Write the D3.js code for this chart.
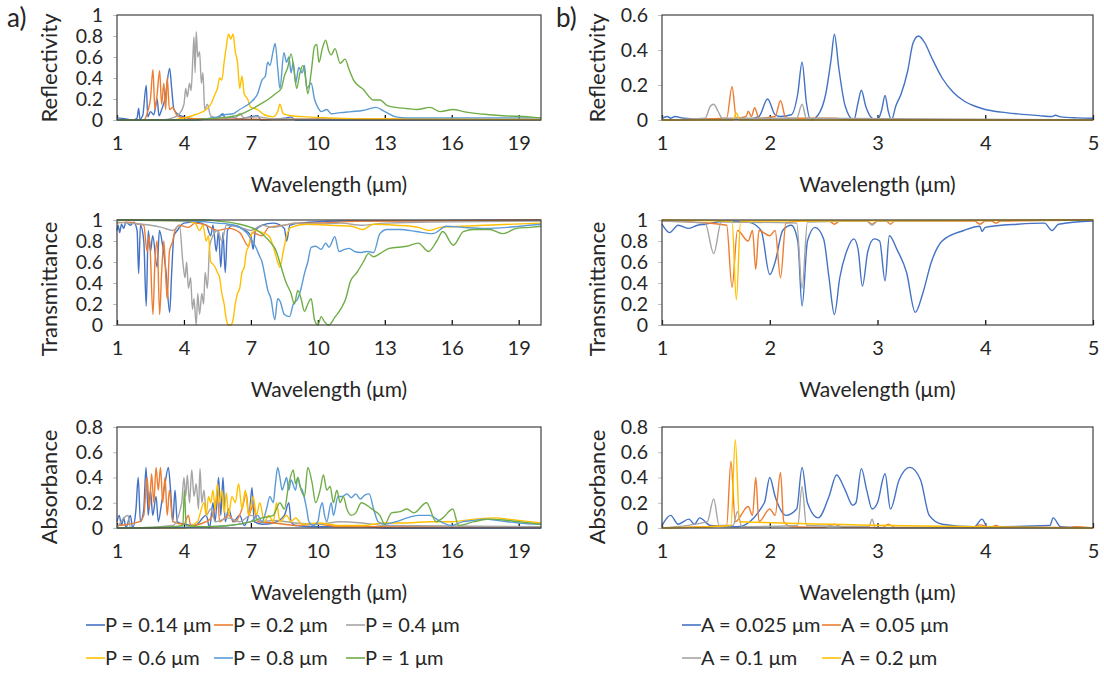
<!DOCTYPE html>
<html>
<head>
<meta charset="utf-8">
<script src="https://cdn.jsdelivr.net/npm/d3@7"></script>
<style>
  body { margin: 0; background: #fff; }
  svg { display: block; }
  text { font-family: Lato, "Open Sans", sans-serif; fill: #262626; }
</style>
</head>
<body>
<svg id="chart" width="1104" height="673"></svg>
<script>
// ---- panel a: period sweep (x in µm, 1..20) ----
const labelsA = ["P = 0.14 μm", "P = 0.2 μm", "P = 0.4 μm", "P = 0.6 μm", "P = 0.8 μm", "P = 1 μm"];
const colorsA = ["#4472C4", "#ED7D31", "#A5A5A5", "#FFC000", "#5B9BD5", "#70AD47"];

const reflA_p014 = [[1,0.02],[1.4,0.01],[1.7,0],[1.9,0.02],[1.97,0.11],[2.03,0.01],[2.15,0.04],[2.31,0.33],[2.38,0.03],[2.5,0.08],[2.65,0.05],[2.8,0.2],[2.88,0.04],[3,0.1],[3.15,0.2],[3.36,0.49],[3.45,0.3],[3.55,0.1],[3.7,0.06],[4,0.03],[4.5,0.01],[5.5,0.02],[5.75,0.06],[5.85,0.01],[6.1,0.03],[6.4,0.01],[7.3,0.04],[7.45,0],[8.6,0.02],[8.8,0.03],[9,0],[20,0]];
const reflA_p02 = [[1,0],[2.2,0],[2.4,0.1],[2.5,0.2],[2.61,0.48],[2.7,0.1],[2.8,0.25],[2.91,0.47],[3,0.15],[3.1,0.35],[3.18,0.1],[3.25,0.4],[3.35,0.1],[3.5,0.12],[3.7,0.04],[4,0.02],[5,0.01],[6,0.01],[8,0.005],[10,0.01],[12,0.01],[20,0.005]];
const reflA_p04 = [[1,0],[3,0],[3.5,0.02],[3.8,0.06],[4,0.15],[4.08,0.3],[4.15,0.22],[4.25,0.35],[4.32,0.28],[4.4,0.6],[4.45,0.79],[4.5,0.45],[4.55,0.84],[4.62,0.6],[4.7,0.65],[4.78,0.35],[4.85,0.45],[4.93,0.1],[5.05,0.15],[5.2,0.04],[5.5,0.02],[6.3,0.02],[6.5,0.06],[6.7,0.02],[7.3,0.03],[8,0.01],[20,0]];
const reflA_p06 = [[1,0],[3.5,0],[4,0.02],[4.5,0.05],[5,0.1],[5.2,0.15],[5.4,0.25],[5.5,0.3],[5.6,0.4],[5.7,0.38],[5.8,0.55],[5.9,0.7],[6,0.82],[6.1,0.77],[6.2,0.82],[6.3,0.65],[6.4,0.55],[6.5,0.3],[6.6,0.42],[6.7,0.25],[6.85,0.2],[7,0.12],[7.3,0.1],[7.6,0.05],[8,0.03],[8.2,0.08],[8.3,0.15],[8.45,0.06],[8.8,0.04],[9.5,0.03],[10.5,0.02],[12,0.01],[14,0.01],[20,0.005]];
const reflA_p08 = [[1,0],[4.5,0],[5,0.01],[5.5,0.03],[5.8,0.05],[6.2,0.06],[6.5,0.1],[7,0.17],[7.3,0.25],[7.5,0.38],[7.65,0.42],[7.75,0.55],[7.85,0.52],[8,0.66],[8.09,0.73],[8.2,0.5],[8.3,0.3],[8.48,0.64],[8.6,0.55],[8.7,0.6],[8.8,0.45],[8.9,0.55],[9,0.35],[9.15,0.5],[9.3,0.45],[9.4,0.52],[9.5,0.3],[9.7,0.35],[9.85,0.2],[10,0.12],[10.15,0.08],[10.4,0.1],[10.6,0.06],[11,0.07],[11.5,0.08],[12,0.09],[12.6,0.12],[13,0.08],[13.5,0.03],[14,0.02],[20,0.02]];
const reflA_p1 = [[1,0],[4,0],[5,0.01],[6,0.03],[6.5,0.05],[7,0.1],[7.5,0.16],[7.8,0.2],[8.1,0.25],[8.36,0.3],[8.5,0.42],[8.65,0.5],[8.8,0.63],[8.95,0.45],[9.05,0.3],[9.2,0.45],[9.33,0.52],[9.45,0.4],[9.55,0.25],[9.7,0.45],[9.85,0.7],[9.95,0.72],[10.05,0.55],[10.2,0.68],[10.35,0.76],[10.5,0.65],[10.6,0.62],[10.77,0.68],[11,0.54],[11.22,0.58],[11.4,0.48],[11.6,0.38],[12.04,0.29],[12.49,0.19],[12.79,0.19],[13.09,0.14],[13.5,0.12],[13.98,0.11],[14.43,0.1],[15.03,0.12],[15.48,0.08],[16.07,0.1],[16.52,0.08],[17.7,0.05],[18.3,0.04],[19.5,0.03],[20,0.02]];

const transA_p014 = [[1,0.9],[1.05,0.95],[1.12,0.88],[1.2,0.96],[1.3,0.92],[1.4,0.98],[1.6,0.95],[1.75,0.98],[1.9,0.9],[1.97,0.49],[2.05,0.95],[2.2,0.8],[2.31,0.18],[2.4,0.9],[2.5,0.7],[2.6,0.85],[2.8,0.55],[2.9,0.9],[3.05,0.75],[3.2,0.5],[3.36,0.12],[3.45,0.5],[3.55,0.85],[3.7,0.9],[4,0.97],[4.5,0.98],[5,0.95],[5.2,0.85],[5.3,0.95],[5.45,0.7],[5.55,0.9],[5.65,0.55],[5.75,0.88],[5.85,0.5],[5.95,0.9],[6.2,0.95],[6.6,0.92],[7,0.85],[7.1,0.72],[7.2,0.9],[7.5,0.95],[8,0.97],[8.5,0.92],[8.6,0.8],[8.75,0.95],[9.2,0.97],[11,0.99],[20,1]];
const transA_p02 = [[1,0.97],[1.5,0.98],[2,0.96],[2.2,0.95],[2.35,0.7],[2.45,0.85],[2.61,0.1],[2.7,0.6],[2.8,0.8],[2.91,0.1],[3,0.5],[3.1,0.8],[3.2,0.4],[3.25,0.25],[3.35,0.7],[3.5,0.8],[3.6,0.9],[3.8,0.95],[4.2,0.93],[4.5,0.97],[5,0.95],[5.5,0.9],[6,0.92],[6.5,0.88],[6.9,0.75],[7.05,0.88],[7.5,0.85],[7.8,0.93],[8.5,0.95],[9,0.97],[10,0.97],[11,0.98],[12,0.99],[14,0.99],[20,1]];
const transA_p04 = [[1,0.98],[1.5,0.97],[2.5,0.95],[3,0.93],[3.5,0.9],[3.8,0.95],[3.95,0.6],[4.05,0.45],[4.12,0.6],[4.2,0.35],[4.3,0.45],[4.38,0.15],[4.45,0.25],[4.55,0],[4.62,0.3],[4.7,0.1],[4.8,0.3],[4.88,0.2],[4.95,0.5],[5.05,0.35],[5.15,0.75],[5.3,0.85],[5.5,0.9],[5.7,0.8],[5.9,0.95],[6.5,0.93],[7,0.9],[7.5,0.95],[8,0.93],[8.5,0.95],[9,0.97],[10,0.96],[11,0.97],[12,0.95],[13,0.97],[15,0.98],[20,0.99]];
const transA_p06 = [[1,1],[4,0.99],[4.5,0.97],[4.7,0.9],[4.85,0.95],[5,0.8],[5.1,0.85],[5.2,0.6],[5.3,0.58],[5.4,0.55],[5.5,0.5],[5.6,0.45],[5.7,0.3],[5.8,0.2],[5.9,0.05],[6,0],[6.1,0],[6.2,0.05],[6.3,0.2],[6.4,0.3],[6.5,0.35],[6.6,0.5],[6.7,0.55],[6.8,0.7],[6.9,0.75],[7,0.85],[7.2,0.9],[7.5,0.88],[7.8,0.85],[8,0.75],[8.2,0.6],[8.3,0.55],[8.45,0.7],[8.6,0.85],[8.8,0.93],[9.5,0.96],[10.5,0.95],[11.5,0.94],[12,0.91],[12.5,0.96],[13.5,0.95],[14.5,0.93],[15,0.9],[15.5,0.93],[16.5,0.94],[17.5,0.95],[20,0.97]];
const transA_p08 = [[1,1],[4.5,0.99],[5.5,0.97],[6,0.96],[6.5,0.93],[6.8,0.88],[7,0.82],[7.2,0.75],[7.4,0.65],[7.5,0.6],[7.6,0.5],[7.76,0.33],[7.9,0.25],[8.07,0.05],[8.2,0.25],[8.3,0.23],[8.5,0.1],[8.73,0.08],[8.9,0.2],[9.1,0.25],[9.25,0.35],[9.4,0.49],[9.55,0.6],[9.7,0.74],[9.9,0.75],[10.15,0.72],[10.35,0.78],[10.5,0.74],[10.76,0.84],[10.95,0.7],[11.2,0.72],[11.4,0.73],[11.65,0.7],[11.9,0.69],[12.2,0.7],[12.5,0.69],[12.78,0.87],[13.1,0.91],[13.7,0.91],[14.4,0.89],[15.15,0.87],[15.76,0.94],[16.5,0.93],[17.5,0.92],[18.5,0.93],[19.5,0.95],[20,0.96]];
const transA_p1 = [[1,1],[5,1],[5.5,0.99],[6,0.98],[6.5,0.96],[7,0.93],[7.3,0.9],[7.6,0.85],[7.9,0.78],[8.1,0.72],[8.36,0.55],[8.55,0.42],[8.8,0.3],[8.95,0.2],[9.1,0.33],[9.25,0.25],[9.4,0.13],[9.55,0.2],[9.7,0.25],[9.85,0.05],[10,0],[10.15,0.08],[10.3,0.03],[10.5,0],[10.75,0.07],[11.05,0.16],[11.25,0.25],[11.45,0.41],[11.75,0.5],[12.04,0.6],[12.27,0.68],[12.5,0.65],[12.78,0.68],[13.2,0.73],[13.98,0.75],[14.5,0.78],[14.96,0.7],[15.33,0.8],[15.6,0.89],[16.07,0.76],[16.52,0.89],[17,0.91],[17.7,0.91],[18.3,0.87],[18.9,0.92],[19.5,0.93],[20,0.94]];

const absA_p014 = [[1,0.05],[1.1,0.1],[1.2,0.02],[1.3,0.08],[1.4,0],[1.6,0.1],[1.7,0],[1.85,0.15],[1.95,0.4],[2.05,0.05],[2.2,0.15],[2.3,0.48],[2.4,0.1],[2.5,0.3],[2.6,0.1],[2.75,0.25],[2.85,0.05],[3,0.2],[3.15,0.35],[3.3,0.48],[3.4,0.3],[3.5,0.05],[3.6,0.3],[3.7,0.05],[4,0.03],[4.5,0.02],[5,0.1],[5.15,0],[5.3,0.2],[5.4,0.05],[5.55,0.4],[5.65,0.1],[5.75,0.4],[5.85,0.05],[6,0.15],[6.2,0.05],[6.5,0.1],[6.7,0.02],[6.95,0.15],[7.05,0.32],[7.15,0.05],[7.5,0.03],[8,0.04],[8.5,0.1],[8.7,0.2],[8.8,0.05],[9,0.02],[10,0.01],[12,0.01],[13,0],[20,0]];
const absA_p02 = [[1,0.02],[1.5,0.03],[2,0.05],[2.2,0.1],[2.35,0.4],[2.45,0.15],[2.55,0.43],[2.65,0.2],[2.75,0.48],[2.85,0.3],[2.95,0.48],[3.05,0.2],[3.15,0.4],[3.25,0.1],[3.35,0.3],[3.5,0.05],[4,0.03],[4.2,0.1],[4.3,0.02],[5,0.05],[5.3,0.1],[5.5,0.25],[5.6,0.05],[6,0.1],[6.3,0.05],[6.6,0.15],[6.8,0.27],[6.9,0.1],[7.1,0.18],[7.3,0.05],[8,0.04],[8.5,0.03],[9,0.02],[10,0.03],[11,0.01],[14,0.01],[20,0.01]];
const absA_p04 = [[1,0],[1.5,0.1],[1.6,0],[3.5,0.02],[3.9,0.2],[4,0.4],[4.08,0.25],[4.15,0.42],[4.25,0.2],[4.35,0.46],[4.45,0.25],[4.55,0.35],[4.65,0.15],[4.72,0.47],[4.8,0.2],[4.9,0.3],[5,0.1],[5.2,0.15],[5.4,0.05],[6,0.08],[6.5,0.05],[7,0.1],[7.5,0.05],[8,0.06],[9,0.04],[10,0.03],[11,0.05],[12,0.04],[13,0.02],[20,0.01]];
const absA_p06 = [[1,0],[4,0],[4.6,0.05],[4.9,0.2],[5,0.1],[5.1,0.25],[5.2,0.2],[5.3,0.3],[5.4,0.15],[5.5,0.35],[5.6,0.2],[5.7,0.3],[5.8,0.12],[5.9,0.28],[6,0.1],[6.15,0.25],[6.3,0.2],[6.45,0.35],[6.6,0.15],[6.75,0.3],[6.9,0.1],[7.1,0.25],[7.25,0.1],[7.4,0.2],[7.6,0.05],[7.8,0.1],[8,0.05],[8.15,0.2],[8.3,0.05],[8.6,0.1],[8.8,0.05],[9,0.08],[9.3,0.03],[10,0.04],[11,0.02],[12,0.02],[13,0.04],[14,0.04],[15,0.05],[16,0.05],[17,0.07],[18,0.08],[18.5,0.07],[19,0.06],[20,0.04]];
const absA_p08 = [[1,0],[5,0.01],[6,0.02],[7,0.05],[7.3,0.1],[7.5,0.05],[7.7,0.15],[7.85,0.25],[8,0.2],[8.1,0.35],[8.2,0.48],[8.3,0.4],[8.4,0.3],[8.5,0.35],[8.6,0.4],[8.7,0.3],[8.8,0.38],[9,0.3],[9.1,0.4],[9.2,0.33],[9.3,0.3],[9.5,0.15],[9.6,0.05],[9.8,0.02],[10,0.05],[10.1,0.15],[10.2,0.2],[10.3,0.1],[10.4,0.05],[10.6,0.2],[10.7,0.1],[10.9,0.25],[11.1,0.25],[11.3,0.27],[11.5,0.24],[11.7,0.27],[11.9,0.23],[12.1,0.26],[12.3,0.27],[12.5,0.15],[12.7,0.05],[13,0.03],[13.5,0.05],[14,0.08],[14.5,0.1],[15,0.1],[15.5,0.05],[16,0.02],[16.5,0.05],[17,0.06],[17.5,0.07],[18,0.06],[18.5,0.05],[19,0.04],[20,0.03]];
const absA_p1 = [[1,0],[3.5,0.01],[3.95,0.02],[4.02,0.3],[4.1,0.02],[5,0.01],[6,0.02],[7,0.05],[7.5,0.08],[8,0.1],[8.3,0.2],[8.5,0.15],[8.7,0.35],[8.9,0.46],[9,0.35],[9.1,0.4],[9.25,0.3],[9.4,0.25],[9.55,0.48],[9.75,0.35],[9.9,0.2],[10.1,0.3],[10.25,0.42],[10.4,0.3],[10.55,0.33],[10.7,0.2],[10.85,0.3],[11,0.2],[11.14,0.25],[11.3,0.15],[11.5,0.1],[11.7,0.12],[11.95,0.2],[12.2,0.18],[12.5,0.14],[12.78,0.1],[13,0.03],[13.3,0.12],[13.7,0.13],[14,0.15],[14.3,0.12],[14.87,0.2],[15.3,0.05],[15.6,0.08],[16.05,0.15],[16.3,0.02],[17,0.05],[17.7,0.07],[18.5,0.06],[19.5,0.04],[20,0.03]];

// ---- panel b: amplitude sweep (x in µm, 1..5) ----
const labelsB = ["A = 0.025 μm", "A = 0.05 μm", "A = 0.1 μm", "A = 0.2 μm"];
const colorsB = ["#4472C4", "#ED7D31", "#A5A5A5", "#FFC000"];

const reflB_a0025 = [[1,0.01],[1.05,0.02],[1.08,0.01],[1.12,0.02],[1.2,0.01],[1.4,0.005],[1.8,0.005],[1.9,0.02],[1.98,0.12],[2.05,0.03],[2.1,0.02],[2.2,0.03],[2.26,0.15],[2.3,0.33],[2.34,0.1],[2.38,0],[2.45,0.03],[2.52,0.15],[2.57,0.35],[2.6,0.49],[2.64,0.3],[2.7,0.08],[2.78,0],[2.82,0.1],[2.85,0.17],[2.89,0.08],[2.95,0.01],[3,0],[3.04,0.06],[3.07,0.14],[3.1,0.05],[3.13,0],[3.17,0.08],[3.22,0.15],[3.28,0.28],[3.33,0.44],[3.38,0.48],[3.44,0.44],[3.5,0.36],[3.6,0.24],[3.7,0.16],[3.8,0.11],[3.9,0.08],[4,0.06],[4.15,0.045],[4.3,0.035],[4.5,0.025],[4.62,0.02],[4.65,0.027],[4.7,0.018],[4.85,0.012],[5,0.01]];
const reflB_a005 = [[1,0],[1.6,0.01],[1.65,0.19],[1.69,0.01],[1.78,0.02],[1.8,0.05],[1.83,0.02],[1.86,0.07],[1.9,0.01],[2.05,0.02],[2.1,0.11],[2.15,0.01],[2.6,0.01],[2.75,0],[5,0]];
const reflB_a01 = [[1,0],[1.4,0.01],[1.45,0.08],[1.48,0.09],[1.52,0.05],[1.56,0.01],[2.25,0.01],[2.3,0.09],[2.34,0.01],[5,0]];
const reflB_a02 = [[1,0],[1.66,0],[1.69,0.04],[1.72,0],[5,0]];

const transB_a0025 = [[1,0.96],[1.07,0.88],[1.15,0.95],[1.25,0.92],[1.33,0.95],[1.4,0.96],[1.6,0.99],[1.8,0.98],[1.92,0.9],[2,0.48],[2.05,0.6],[2.12,0.9],[2.2,0.95],[2.26,0.8],[2.3,0.18],[2.35,0.8],[2.42,0.93],[2.5,0.82],[2.55,0.45],[2.6,0.1],[2.65,0.45],[2.72,0.72],[2.78,0.82],[2.82,0.72],[2.86,0.37],[2.91,0.7],[2.97,0.82],[3.02,0.8],[3.07,0.42],[3.11,0.85],[3.18,0.72],[3.27,0.5],[3.35,0.12],[3.42,0.3],[3.5,0.6],[3.6,0.8],[3.8,0.9],[3.95,0.94],[3.97,0.89],[4,0.93],[4.3,0.96],[4.55,0.97],[4.62,0.9],[4.68,0.96],[5,0.99]];
const transB_a005 = [[1,0.99],[1.3,0.98],[1.6,0.95],[1.65,0.36],[1.7,0.9],[1.8,0.8],[1.84,0.9],[1.87,0.53],[1.9,0.9],[2,0.85],[2.05,0.9],[2.1,0.45],[2.15,0.97],[2.3,0.99],[2.55,0.99],[2.6,0.96],[2.65,0.99],[2.9,0.99],[2.95,0.96],[3.0,0.99],[3.08,0.99],[3.12,0.96],[3.16,0.99],[3.9,0.99],[3.95,0.96],[4.0,0.99],[4.06,0.99],[4.1,0.97],[4.14,0.99],[5,1]];
const transB_a01 = [[1,0.99],[1.4,0.97],[1.48,0.68],[1.55,0.98],[2.25,0.97],[2.3,0.35],[2.35,0.98],[2.9,0.99],[2.95,0.95],[3,0.99],[5,1]];
const transB_a02 = [[1,1],[1.65,0.99],[1.69,0.24],[1.73,0.99],[5,1]];

const absB_a0025 = [[1,0.02],[1.08,0.1],[1.15,0.03],[1.25,0.07],[1.3,0.03],[1.35,0.08],[1.45,0.02],[1.7,0.01],[1.95,0.2],[2,0.4],[2.05,0.25],[2.15,0.1],[2.25,0.15],[2.3,0.48],[2.35,0.2],[2.45,0.08],[2.55,0.25],[2.62,0.42],[2.7,0.3],[2.77,0.18],[2.8,0.2],[2.85,0.47],[2.9,0.3],[2.95,0.15],[3,0.2],[3.07,0.43],[3.12,0.15],[3.2,0.38],[3.3,0.48],[3.4,0.38],[3.48,0.1],[3.6,0.03],[3.9,0.01],[3.97,0.07],[4.02,0.01],[4.6,0.02],[4.63,0.08],[4.7,0.01],[5,0]];
const absB_a005 = [[1,0],[1.6,0.02],[1.64,0.53],[1.68,0.05],[1.8,0.17],[1.84,0.1],[1.87,0.4],[1.9,0.05],[2,0.15],[2.05,0.1],[2.1,0.44],[2.13,0.05],[2.2,0.01],[2.5,0.005],[2.6,0.03],[2.68,0.005],[3.05,0.005],[3.1,0.03],[3.16,0.005],[3.9,0.005],[3.95,0.025],[4.05,0.005],[4.1,0.02],[4.15,0.005],[4.8,0.005],[4.82,0.01],[5,0]];
const absB_a01 = [[1,0],[1.42,0.05],[1.48,0.23],[1.53,0.02],[1.66,0.02],[1.7,0.13],[1.74,0.01],[2.26,0.02],[2.3,0.33],[2.34,0.02],[2.92,0.01],[2.95,0.07],[2.98,0],[5,0]];
const absB_a02 = [[1,0],[1.64,0.02],[1.68,0.7],[1.72,0.05],[5,0]];

// ---- tick labels ----
const ticksXA = [1, 4, 7, 10, 13, 16, 19];
const ticksXB = [1, 2, 3, 4, 5];
const ticksY1 = [0, 0.2, 0.4, 0.6, 0.8, 1];
const ticksY08 = [0, 0.2, 0.4, 0.6, 0.8];
const ticksY06 = [0, 0.2, 0.4, 0.6];

const svg = d3.select("#chart");

const colA = { x0: 117, x1: 541, domain: [1, 20], ticks: ticksXA, titleX: 49, tag: "a)", tagX: 7 };
const colB = { x0: 662, x1: 1093, domain: [1, 5], ticks: ticksXB, titleX: 597, tag: "b)", tagX: 556 };
const rows = [
  { top: 15, bottom: 120, titleY: 68 },
  { top: 220, bottom: 325, titleY: 289 },
  { top: 427, bottom: 528, titleY: 487 }
];

const panels = [
  { col: colA, row: rows[0], ymax: 1, yticks: ticksY1, title: "Reflectivity", series: [reflA_p014, reflA_p02, reflA_p04, reflA_p06, reflA_p08, reflA_p1], colors: colorsA },
  { col: colA, row: rows[1], ymax: 1, yticks: ticksY1, title: "Transmittance", series: [transA_p014, transA_p02, transA_p04, transA_p06, transA_p08, transA_p1], colors: colorsA },
  { col: colA, row: rows[2], ymax: 0.8, yticks: ticksY08, title: "Absorbance", series: [absA_p014, absA_p02, absA_p04, absA_p06, absA_p08, absA_p1], colors: colorsA },
  { col: colB, row: rows[0], ymax: 0.6, yticks: ticksY06, title: "Reflectivity", series: [reflB_a0025, reflB_a005, reflB_a01, reflB_a02], colors: colorsB },
  { col: colB, row: rows[1], ymax: 1, yticks: ticksY1, title: "Transmittance", series: [transB_a0025, transB_a005, transB_a01, transB_a02], colors: colorsB },
  { col: colB, row: rows[2], ymax: 0.8, yticks: ticksY08, title: "Absorbance", series: [absB_a0025, absB_a005, absB_a01, absB_a02], colors: colorsB }
];

const drawPanel = (p) => {
  const x = d3.scaleLinear().domain(p.col.domain).range([p.col.x0, p.col.x1]);
  const y = d3.scaleLinear().domain([0, p.ymax]).range([p.row.bottom, p.row.top]);
  const g = svg.append("g");

  // y axis labels + short outside ticks
  const yAxis = g.append("g")
    .attr("transform", `translate(${p.col.x0},0)`)
    .call(d3.axisLeft(y).tickValues(p.yticks).tickSize(4).tickPadding(10).tickFormat(d3.format("~g")));
  yAxis.select(".domain").remove();
  yAxis.selectAll("line").attr("stroke", "#bfbfbf");
  yAxis.selectAll("text").attr("font-size", 19.5).attr("font-family", "Lato").attr("fill", "#262626");

  // x axis labels, ticks inside the plot
  const xAxis = g.append("g")
    .attr("transform", `translate(0,${p.row.bottom})`)
    .call(d3.axisBottom(x).tickValues(p.col.ticks).tickSize(-5).tickPadding(16).tickFormat(d3.format("~g")));
  xAxis.select(".domain").remove();
  xAxis.selectAll("line").attr("stroke", "#000").attr("stroke-width", 1.2);
  xAxis.selectAll("text").attr("font-size", 20).attr("font-family", "Lato").attr("fill", "#262626");

  // series
  const line = d3.line().x(d => x(d[0])).y(d => y(d[1])).curve(d3.curveMonotoneX);
  g.append("g")
    .selectAll("path")
    .data(p.series)
    .join("path")
    .attr("d", line)
    .attr("fill", "none")
    .attr("stroke", (d, i) => p.colors[i])
    .attr("stroke-width", 1.4)
    .attr("stroke-linejoin", "round");

  // frame
  g.append("rect")
    .attr("x", p.col.x0)
    .attr("y", p.row.top)
    .attr("width", p.col.x1 - p.col.x0)
    .attr("height", p.row.bottom - p.row.top)
    .attr("fill", "none")
    .attr("stroke", "#404040")
    .attr("stroke-width", 1.2);

  // axis titles
  g.append("text")
    .text("Wavelength (μm)")
    .attr("x", (p.col.x0 + p.col.x1) / 2)
    .attr("y", p.row.bottom + 72)
    .attr("text-anchor", "middle")
    .attr("font-size", 21);

  g.append("text")
    .text(p.title)
    .attr("transform", `translate(${p.col.titleX},${p.row.titleY}) rotate(-90)`)
    .attr("text-anchor", "middle")
    .attr("dy", "0.35em")
    .attr("font-size", 22);
};

panels.forEach(drawPanel);

// panel tags
[colA, colB].forEach(c => {
  svg.append("text")
    .text(c.tag)
    .attr("x", c.tagX)
    .attr("y", 27)
    .attr("font-family", "Liberation Serif, serif")
    .attr("font-size", 26);
});

// legends
const drawLegend = (labels, colors, positions) => {
  const lg = svg.append("g");
  labels.forEach((lab, i) => {
    const [lx, ly] = positions[i];
    lg.append("line")
      .attr("x1", lx).attr("x2", lx + 19)
      .attr("y1", ly).attr("y2", ly)
      .attr("stroke", colors[i])
      .attr("stroke-width", 1.6);
    lg.append("text")
      .text(lab)
      .attr("x", lx + 19)
      .attr("y", ly)
      .attr("dy", "0.35em")
      .attr("font-size", 20);
  });
};

drawLegend(labelsA, colorsA, [[86, 625], [214, 625], [346, 625], [86, 658], [214, 658], [346, 658]]);
drawLegend(labelsB, colorsB, [[682, 625], [822, 625], [682, 658], [822, 658]]);
</script>
</body>
</html>
